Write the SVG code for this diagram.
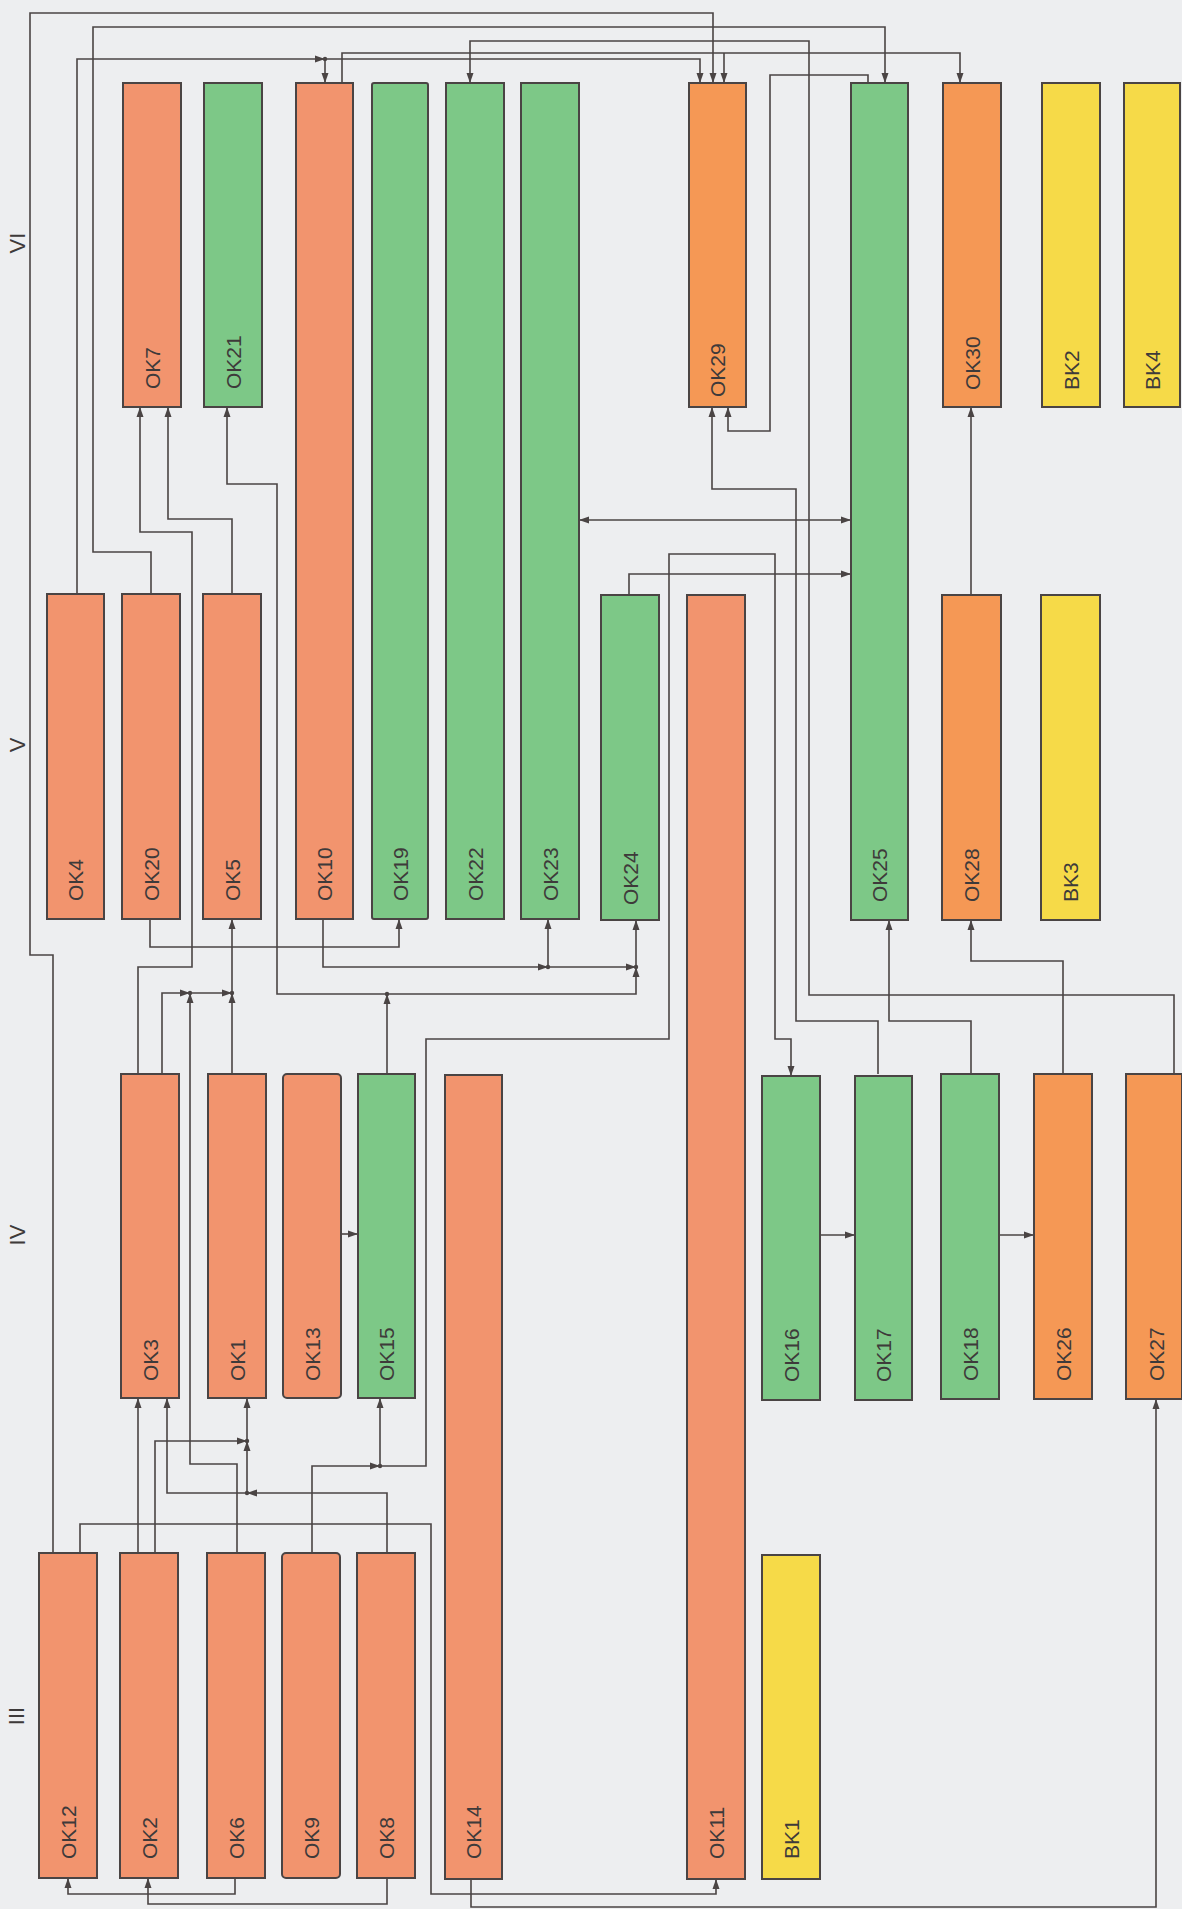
<svg xmlns="http://www.w3.org/2000/svg" width="1182" height="1909" viewBox="0 0 1182 1909">
<style>
.n rect{stroke:#4a4444;stroke-width:2}
.s rect{fill:#F2946E}
.o rect{fill:#F59855}
.g rect{fill:#7DC887}
.y rect{fill:#F6DA48}
text{font-family:"Liberation Sans",Arial,sans-serif;font-size:21px;fill:#3e3a3a}
.rn{text-anchor:middle;dominant-baseline:central;font-size:22px}
#edges path{fill:none;stroke:#4a4444;stroke-width:1.6}
#edges .e{marker-end:url(#a)}
#edges circle{fill:#4a4444}
</style>
<defs>
<marker id="a" markerWidth="10" markerHeight="8" refX="10" refY="4" orient="auto-start-reverse" markerUnits="userSpaceOnUse"><path d="M0,0.5 L10,4 L0,7.5 z" fill="#4a4444"/></marker>
</defs>
<rect x="0" y="0" width="1182" height="1909" fill="#EDEEF0"/>
<g id="romans">
<text class="rn" transform="translate(17,243) rotate(-90)">VI</text>
<text class="rn" transform="translate(17,745) rotate(-90)">V</text>
<text class="rn" transform="translate(17,1235) rotate(-90)">IV</text>
<text class="rn" transform="translate(16,1716) rotate(-90)">III</text>
</g>
<g id="edges">
<path class="e" d="M53,1553 V955 H30 V13 H713 V83"/>
<path class="e" d="M151,594 V552 H93 V27 H885 V83"/>
<path class="e" d="M1174,1074 V995 H809 V41 H470 V83"/>
<path class="e" d="M342,83 V53 H960 V83"/>
<path class="e" d="M724,53 V83"/>
<path class="e" d="M77,594 V59 H325"/>
<path class="e" d="M325,59 V83"/>
<path class="e" d="M325,59 H700 V83"/>
<path class="e" d="M868,83 V75 H770 V431 H728 V407"/>
<path class="e" d="M878,1074 V1021 H796 V489 H712 V407"/>
<path class="e" d="M579,520 H851" marker-start="url(#a)"/>
<path class="e" d="M629,595 V574 H851"/>
<path class="e" d="M312,1553 V1466 H380"/>
<path class="e" d="M380,1466 V1398"/>
<path class="e" d="M380,1466 H426 V1039 H669 V554 H775 V1039 H791 V1076"/>
<path class="e" d="M387,1553 V1493 H247"/>
<path class="e" d="M247,1493 V1441"/>
<path class="e" d="M247,1441 V1398"/>
<path class="e" d="M247,1493 H167 V1398"/>
<path class="e" d="M155,1553 V1441 H247"/>
<path class="e" d="M138,1553 V1398"/>
<path class="e" d="M237,1553 V1464 H190 V993"/>
<path class="e" d="M162,1074 V993 H190"/>
<path class="e" d="M190,993 H232"/>
<path class="e" d="M232,993 V919"/>
<path class="e" d="M232,1074 V993"/>
<path class="e" d="M138,1074 V967 H192 V532 H140 V407"/>
<path class="e" d="M232,594 V519 H168 V407"/>
<path class="e" d="M387,1074 V994"/>
<path class="e" d="M387,994 H277 V484 H227 V407"/>
<path class="e" d="M387,994 H636 V967"/>
<path class="e" d="M323,919 V967 H548"/>
<path class="e" d="M548,967 V919"/>
<path class="e" d="M548,967 H636"/>
<path class="e" d="M636,967 V920"/>
<path class="e" d="M150,919 V947 H399 V919"/>
<path class="e" d="M80,1553 V1524 H431 V1894 H716 V1879"/>
<path class="e" d="M471,1879 V1907 H1156 V1399"/>
<path class="e" d="M235,1878 V1894 H68 V1878"/>
<path class="e" d="M387,1878 V1904 H148 V1878"/>
<path class="e" d="M341,1234 H358"/>
<path class="e" d="M820,1235 H855"/>
<path class="e" d="M999,1235 H1034"/>
<path class="e" d="M971,1074 V1021 H889 V920"/>
<path class="e" d="M1063,1074 V961 H971 V920"/>
<path class="e" d="M971,595 V407"/>
<circle cx="325" cy="59" r="2.2"/>
<circle cx="190" cy="993" r="2.2"/>
<circle cx="232" cy="993" r="2.2"/>
<circle cx="387" cy="994" r="2.2"/>
<circle cx="548" cy="967" r="2.2"/>
<circle cx="636" cy="967" r="2.2"/>
<circle cx="380" cy="1466" r="2.2"/>
<circle cx="247" cy="1441" r="2.2"/>
<circle cx="247" cy="1493" r="2.2"/>
</g>
<g id="nodes">
<g id="OK7" class="n s"><rect x="123" y="83" width="58" height="324"/><text transform="translate(159.5,389) rotate(-90)">OK7</text></g>
<g id="OK21" class="n g"><rect x="204" y="83" width="58" height="324"/><text transform="translate(240.5,389) rotate(-90)">OK21</text></g>
<g id="OK10" class="n s"><rect x="296" y="83" width="57" height="836"/><text transform="translate(332,901) rotate(-90)">OK10</text></g>
<g id="OK19" class="n g"><rect x="372" y="83" width="56" height="836" rx="2"/><text transform="translate(407.5,901) rotate(-90)">OK19</text></g>
<g id="OK22" class="n g"><rect x="446" y="83" width="58" height="836"/><text transform="translate(482.5,901) rotate(-90)">OK22</text></g>
<g id="OK23" class="n g"><rect x="521" y="83" width="58" height="836"/><text transform="translate(557.5,901) rotate(-90)">OK23</text></g>
<g id="OK29" class="n o"><rect x="689" y="83" width="57" height="324"/><text transform="translate(725,397) rotate(-90)">OK29</text></g>
<g id="OK25" class="n g"><rect x="851" y="83" width="57" height="837"/><text transform="translate(887,902) rotate(-90)">OK25</text></g>
<g id="OK30" class="n o"><rect x="943" y="83" width="58" height="324"/><text transform="translate(979.5,390) rotate(-90)">OK30</text></g>
<g id="BK2" class="n y"><rect x="1042" y="83" width="58" height="324"/><text transform="translate(1078.5,390) rotate(-90)">BK2</text></g>
<g id="BK4" class="n y"><rect x="1124" y="83" width="56" height="324"/><text transform="translate(1159.5,390) rotate(-90)">BK4</text></g>
<g id="OK4" class="n s"><rect x="47" y="594" width="57" height="325"/><text transform="translate(83,901) rotate(-90)">OK4</text></g>
<g id="OK20" class="n s"><rect x="122" y="594" width="58" height="325"/><text transform="translate(158.5,901) rotate(-90)">OK20</text></g>
<g id="OK5" class="n s"><rect x="203" y="594" width="58" height="325"/><text transform="translate(239.5,901) rotate(-90)">OK5</text></g>
<g id="OK24" class="n g"><rect x="601" y="595" width="58" height="325"/><text transform="translate(637.5,905) rotate(-90)">OK24</text></g>
<g id="OK11" class="n s"><rect x="687" y="595" width="58" height="1284"/><text transform="translate(723.5,1859) rotate(-90)">OK11</text></g>
<g id="OK28" class="n o"><rect x="942" y="595" width="59" height="325"/><text transform="translate(979,902) rotate(-90)">OK28</text></g>
<g id="BK3" class="n y"><rect x="1041" y="595" width="59" height="325"/><text transform="translate(1078,902) rotate(-90)">BK3</text></g>
<g id="OK3" class="n s"><rect x="121" y="1074" width="58" height="324"/><text transform="translate(157.5,1381) rotate(-90)">OK3</text></g>
<g id="OK1" class="n s"><rect x="208" y="1074" width="58" height="324"/><text transform="translate(244.5,1381) rotate(-90)">OK1</text></g>
<g id="OK13" class="n s"><rect x="283" y="1074" width="58" height="324" rx="4"/><text transform="translate(319.5,1381) rotate(-90)">OK13</text></g>
<g id="OK15" class="n g"><rect x="358" y="1074" width="57" height="324"/><text transform="translate(394,1381) rotate(-90)">OK15</text></g>
<g id="OK14" class="n s"><rect x="445" y="1075" width="57" height="804"/><text transform="translate(481,1859) rotate(-90)">OK14</text></g>
<g id="OK16" class="n g"><rect x="762" y="1076" width="58" height="324"/><text transform="translate(798.5,1382) rotate(-90)">OK16</text></g>
<g id="OK17" class="n g"><rect x="855" y="1076" width="57" height="324"/><text transform="translate(891,1382) rotate(-90)">OK17</text></g>
<g id="OK18" class="n g"><rect x="941" y="1074" width="58" height="325"/><text transform="translate(977.5,1381) rotate(-90)">OK18</text></g>
<g id="OK26" class="n o"><rect x="1034" y="1074" width="58" height="325"/><text transform="translate(1070.5,1381) rotate(-90)">OK26</text></g>
<g id="OK27" class="n o"><rect x="1126" y="1074" width="56" height="325"/><text transform="translate(1163.5,1381) rotate(-90)">OK27</text></g>
<g id="OK12" class="n s"><rect x="39" y="1553" width="58" height="325"/><text transform="translate(75.5,1859) rotate(-90)">OK12</text></g>
<g id="OK2" class="n s"><rect x="120" y="1553" width="58" height="325"/><text transform="translate(156.5,1859) rotate(-90)">OK2</text></g>
<g id="OK6" class="n s"><rect x="207" y="1553" width="58" height="325"/><text transform="translate(243.5,1859) rotate(-90)">OK6</text></g>
<g id="OK9" class="n s"><rect x="282" y="1553" width="58" height="325" rx="4"/><text transform="translate(318.5,1859) rotate(-90)">OK9</text></g>
<g id="OK8" class="n s"><rect x="357" y="1553" width="58" height="325"/><text transform="translate(393.5,1859) rotate(-90)">OK8</text></g>
<g id="BK1" class="n y"><rect x="762" y="1555" width="58" height="324"/><text transform="translate(798.5,1859) rotate(-90)">BK1</text></g>
</g>
</svg>
